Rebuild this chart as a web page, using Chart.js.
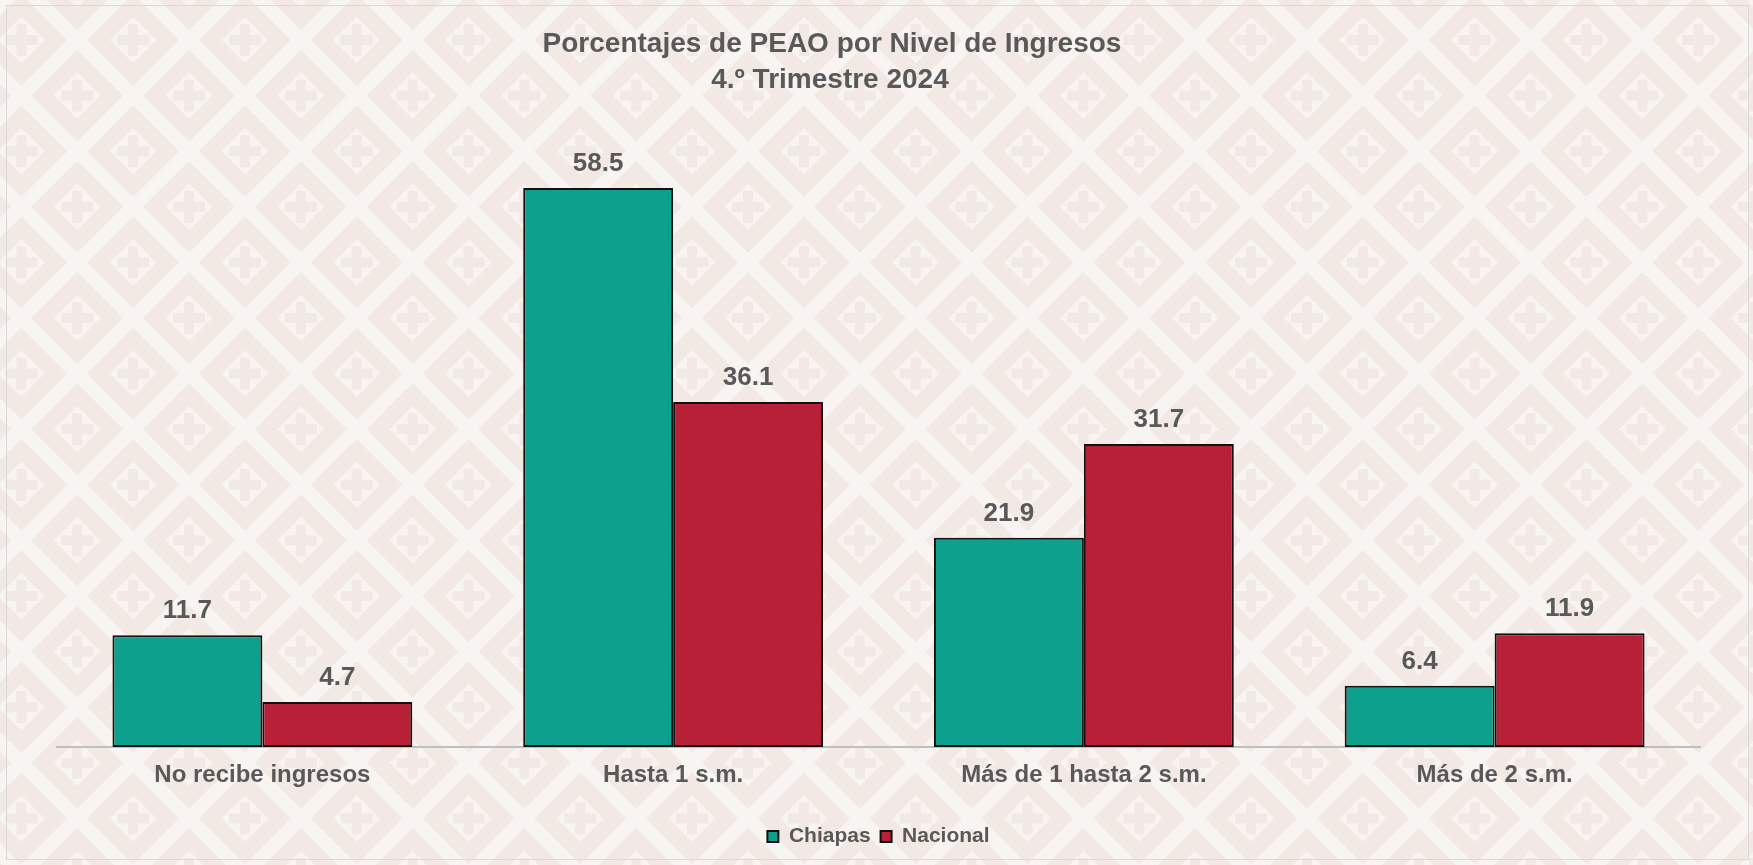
<!DOCTYPE html>
<html>
<head>
<meta charset="utf-8">
<script src="https://cdn.jsdelivr.net/npm/chart.js@4.4.1/dist/chart.umd.min.js"></script>
<style>
  html, body { margin: 0; padding: 0; background: #F8F4F1; }
  #wrap { width: 1753px; height: 865px; position: relative; }
</style>
</head>
<body>
<div id="wrap"><canvas id="c" width="1753" height="865"></canvas></div>
<script>
// ---- data ----
const categories = ['No recibe ingresos', 'Hasta 1 s.m.', 'Más de 1 hasta 2 s.m.', 'Más de 2 s.m.'];
const chiapasValues = [11.7, 58.5, 21.9, 6.4];
const nacionalValues = [4.7, 36.1, 31.7, 11.9];
const seriesNames = ['Chiapas', 'Nacional'];
const titleLines = ['Porcentajes de PEAO por Nivel de Ingresos', '4.º Trimestre 2024'];

const FONT = '"Liberation Sans", Arial, Helvetica, sans-serif';
const TEXT = '#595959';
const TEAL = '#0DA08D';
const RED = '#B82038';

// background lattice pattern
const bgPlugin = {
  id: 'bgPattern',
  beforeDraw(chart) {
    const ctx = chart.ctx, w = chart.width, h = chart.height;
    const light = '#F8F4F1', dark = '#F2E9E5';
    ctx.save();
    ctx.fillStyle = light;
    ctx.fillRect(0, 0, w, h);
    const hx = 55.9, hy = 55.6, x0 = 21.3, y0 = 40;
    const diamond = (cx, cy, r, col) => {
      ctx.fillStyle = col;
      ctx.beginPath();
      ctx.moveTo(cx, cy - r); ctx.lineTo(cx + r, cy); ctx.lineTo(cx, cy + r); ctx.lineTo(cx - r, cy);
      ctx.closePath(); ctx.fill();
    };
    for (let j = -2; j <= Math.ceil(h / hy) + 2; j++) {
      for (let i = -2; i <= Math.ceil(w / hx) + 2; i++) {
        if (Math.abs(i + j) % 2 !== 0) continue;
        const cx = x0 + i * hx, cy = y0 + j * hy;
        diamond(cx, cy, 45.9, dark);
        diamond(cx, cy, 23.3, light);
        ctx.fillStyle = dark;
        ctx.fillRect(cx - 16, cy - 5, 32, 10);
        ctx.fillRect(cx - 5, cy - 16, 10, 32);
      }
    }
    ctx.restore();
  },
  afterDraw(chart) {
    const ctx = chart.ctx;
    ctx.save();
    // frame
    ctx.strokeStyle = '#D9D9D9';
    ctx.lineWidth = 1;
    ctx.strokeRect(6.5, 5.5, 1742, 854);
    // title
    ctx.fillStyle = TEXT;
    ctx.textAlign = 'center';
    ctx.textBaseline = 'alphabetic';
    ctx.font = 'bold 28px ' + FONT;
    ctx.fillText(titleLines[0], 832, 52);
    ctx.fillText(titleLines[1], 830, 88);
    ctx.restore();
  }
};

// value labels above bars
const labelPlugin = {
  id: 'valueLabels',
  afterDatasetsDraw(chart) {
    const ctx = chart.ctx;
    ctx.save();
    ctx.fillStyle = TEXT;
    ctx.font = 'bold 26px ' + FONT;
    ctx.textAlign = 'center';
    ctx.textBaseline = 'alphabetic';
    chart.data.datasets.forEach((ds, di) => {
      const meta = chart.getDatasetMeta(di);
      meta.data.forEach((el, i) => {
        ctx.fillText(ds.data[i].toFixed(1), el.x, el.y - 17);
      });
    });
    ctx.restore();
  }
};

new Chart(document.getElementById('c'), {
  type: 'bar',
  data: {
    labels: categories,
    datasets: [
      { label: seriesNames[0], data: chiapasValues, backgroundColor: TEAL, borderColor: '#111111', borderWidth: 2, borderSkipped: false },
      { label: seriesNames[1], data: nacionalValues, backgroundColor: RED, borderColor: '#111111', borderWidth: 2, borderSkipped: false }
    ]
  },
  options: {
    responsive: false,
    animation: false,
    devicePixelRatio: 1,
    layout: { padding: { left: 57, right: 53, top: 78, bottom: 8 } },
    datasets: { bar: { categoryPercentage: 0.73, barPercentage: 1.0 } },
    scales: {
      x: {
        grid: { display: false, drawTicks: false },
        border: { display: true, color: '#BFBFBF', width: 2 },
        ticks: { color: TEXT, font: { family: FONT, size: 24, weight: 'bold' }, padding: 14, maxRotation: 0 },
        afterFit(scale) { scale.height = 69; }
      },
      y: {
        display: false,
        min: 0,
        max: 70
      }
    },
    plugins: {
      title: { display: false },
      tooltip: { enabled: false },
      legend: {
        display: true,
        position: 'bottom',
        labels: {
          color: TEXT,
          font: { family: FONT, size: 21, weight: 'bold' },
          boxWidth: 11,
          boxHeight: 11,
          padding: 10
        }
      }
    }
  },
  plugins: [bgPlugin, labelPlugin]
});
</script>
</body>
</html>
